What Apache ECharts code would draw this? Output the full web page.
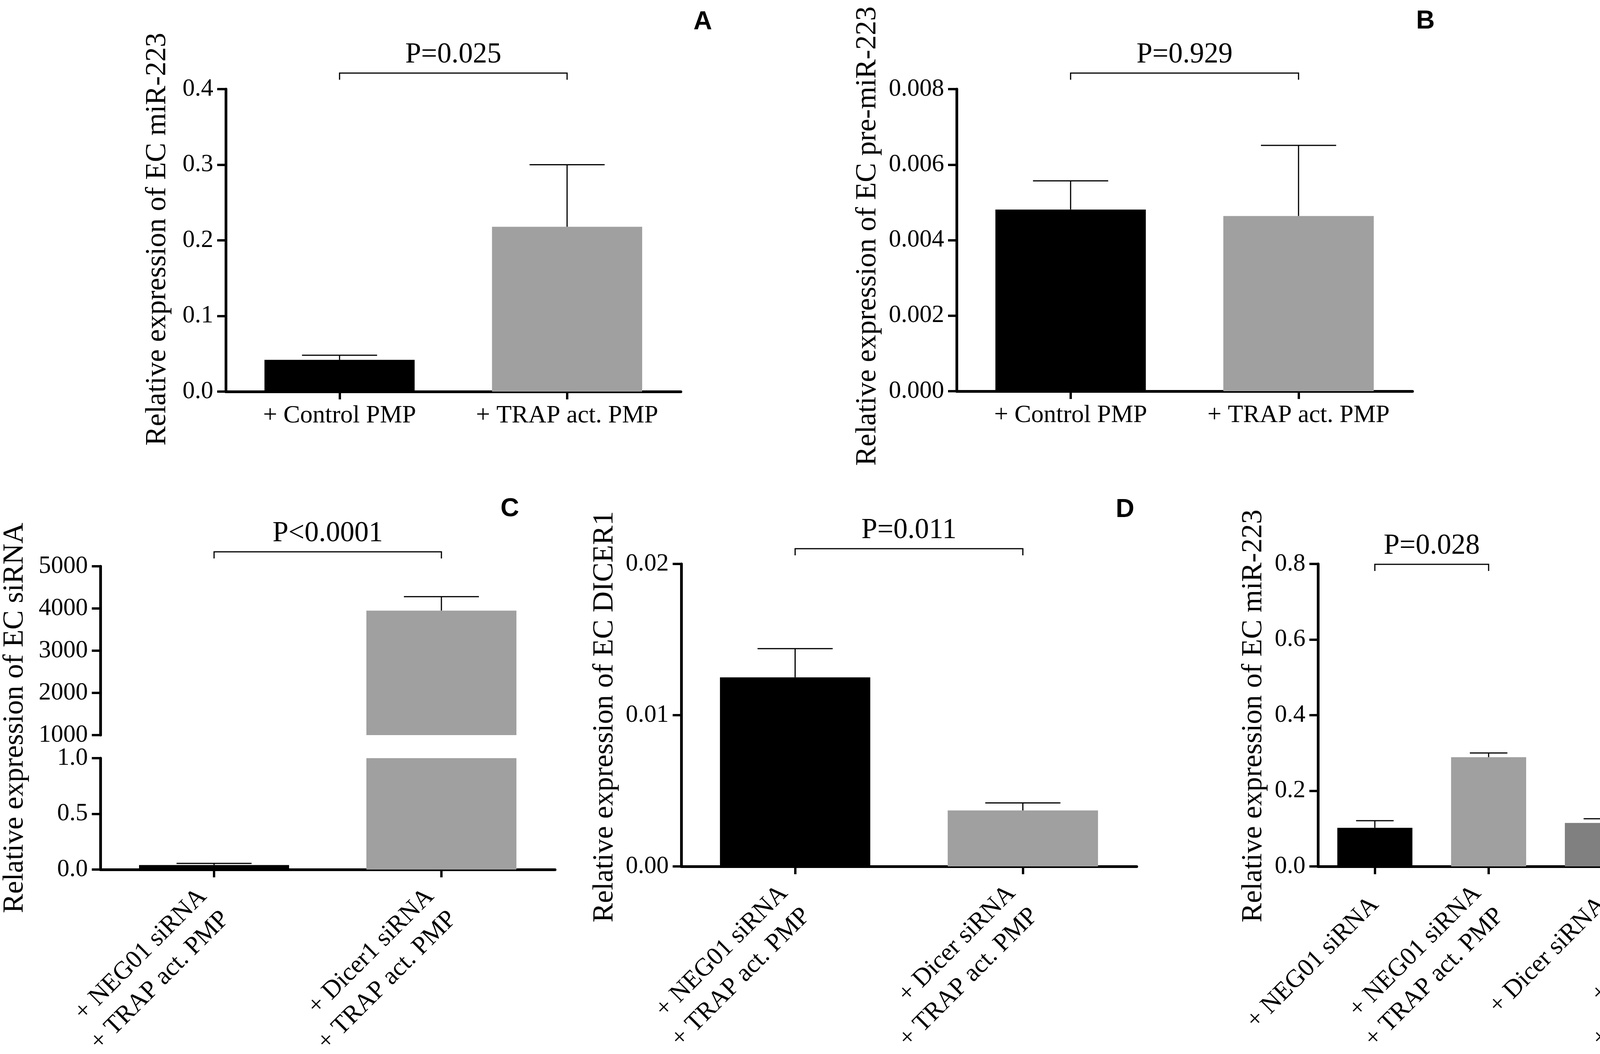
<!DOCTYPE html>
<html>
<head>
<meta charset="utf-8">
<script src="https://cdn.jsdelivr.net/npm/echarts@6/dist/echarts.min.js"></script>
<style>
html,body{margin:0;padding:0;background:#fff;}
#chart{width:4550px;height:2697px;}
</style>
</head>
<body>
<div id="chart"></div>
<script>
// ---------------- DATA ----------------
const catsA = ['+ Control PMP', '+ TRAP act. PMP'];
const meanA = [0.042, 0.218];
const semA  = [0.006, 0.082];
const pA = ['P=0.025'];
const pairsA = [[0, 1]];

const catsB = ['+ Control PMP', '+ TRAP act. PMP'];
const meanB = [0.00481, 0.00464];
const semB  = [0.00076, 0.00187];
const pB = ['P=0.929'];
const pairsB = [[0, 1]];

const catsC = ['+ NEG01 siRNA\n+ TRAP act. PMP', '+ Dicer1 siRNA\n+ TRAP act. PMP'];
const meanC = [0.04, 3950];
const semC  = [0.015, 330];
const pC = ['P<0.0001'];
const pairsC = [[0, 1]];

const catsD = ['+ NEG01 siRNA\n+ TRAP act. PMP', '+ Dicer siRNA\n+ TRAP act. PMP'];
const meanD = [0.0125, 0.0037];
const semD  = [0.0019, 0.0005];
const pD = ['P=0.011'];
const pairsD = [[0, 1]];

const catsE = ['+ NEG01 siRNA', '+ NEG01 siRNA\n+ TRAP act. PMP', '+ Dicer siRNA', '+ Dicer siRNA\n+ TRAP act. PMP'];
const meanE = [0.102, 0.289, 0.115, 0.432];
const semE  = [0.019, 0.011, 0.011, 0.106];
const pE = ['P=0.028', 'P=0.023'];
const pairsE = [[0, 1], [2, 3]];

const titles = {
  A: 'Relative expression of EC miR-223',
  B: 'Relative expression of EC pre-miR-223',
  C: 'Relative expression of EC siRNA',
  D: 'Relative expression of EC DICER1',
  E: 'Relative expression of EC miR-223'
};

// ---------------- STYLE / LAYOUT ----------------
const SERIF = 'Liberation Serif, Times New Roman, serif';
const SANS = 'Liberation Sans, Arial, sans-serif';
const BLACK = '#000000', GRAY = '#a0a0a0', DGRAY = '#808080', LGRAY = '#d4d4d4';

const grids = [
  {left: 578,  top: 228,  width: 1165, height: 774},  // A
  {left: 2449, top: 228,  width: 1167, height: 773},  // B
  {left: 257,  top: 1449, width: 1164, height: 432},  // C upper
  {left: 257,  top: 1940, width: 1164, height: 285},  // C lower
  {left: 1744, top: 1443, width: 1166, height: 774},  // D
  {left: 3374, top: 1443, width: 1165, height: 774}   // E
].map(g => Object.assign({outerBoundsMode: 'none', containLabel: false}, g));

const axisLineStyle = {show: true, onZero: false, lineStyle: {color: '#000', width: 7}};
const tickStyle = {show: true, length: 22, lineStyle: {color: '#000', width: 6}};

function xAxisFor(gi, cats, opts) {
  opts = opts || {};
  return {
    type: 'category', gridIndex: gi, data: cats, boundaryGap: true,
    show: opts.hidden ? false : true,
    axisLine: axisLineStyle,
    axisTick: Object.assign({alignWithLabel: true}, tickStyle, {length: 20}),
    axisLabel: opts.rotated ? {
      interval: 0, rotate: 45, fontFamily: SERIF, fontSize: 65, lineHeight: 82,
      color: '#000', margin: 88
    } : {
      interval: 0, fontFamily: SERIF, fontSize: 64, color: '#000', margin: 30
    },
    splitLine: {show: false}
  };
}
function yAxisFor(gi, min, max, interval, dec) {
  return {
    type: 'value', gridIndex: gi, min: min, max: max, interval: interval,
    axisLine: axisLineStyle, axisTick: tickStyle,
    axisLabel: {fontFamily: SERIF, fontSize: 63, color: '#000', margin: 32,
      formatter: v => dec >= 0 ? Number(v).toFixed(dec) : String(Math.round(v))},
    splitLine: {show: false}
  };
}

function barSeries(gi, means, colors) {
  return {
    type: 'bar', xAxisIndex: gi, yAxisIndex: gi, barWidth: '66%', clip: true,
    silent: true, animation: false,
    data: means.map((v, k) => ({value: v, itemStyle: {color: colors[k]}}))
  };
}
function errSeries(gi, means, sems, yMin, yMax) {
  return {
    type: 'custom', xAxisIndex: gi, yAxisIndex: gi, silent: true, animation: false, z: 5,
    encode: {x: 0, y: [1, 2]},
    data: means.map((m, k) => [k, m, m + sems[k]]),
    renderItem: function (params, api) {
      const x = api.value(0), m = api.value(1), t = api.value(2);
      if (m < yMin || t > yMax) return null;
      const p0 = api.coord([x, m]);
      const p1 = api.coord([x, t]);
      const cw = api.size([1, 0])[0] * 0.33;
      return {
        type: 'group', children: [
          {type: 'line', shape: {x1: p0[0], y1: p0[1], x2: p1[0], y2: p1[1]}, style: {stroke: '#000', lineWidth: 3}},
          {type: 'line', shape: {x1: p1[0] - cw / 2, y1: p1[1], x2: p1[0] + cw / 2, y2: p1[1]}, style: {stroke: '#000', lineWidth: 3}}
        ]
      };
    }
  };
}
function pSeries(gi, pairs, labels, yMin, yMax, offs) {
  return {
    type: 'custom', xAxisIndex: gi, yAxisIndex: gi, silent: true, animation: false, clip: false,
    encode: {x: 0, y: 2},
    data: pairs.map(p => [p[0], p[1], yMin]),
    renderItem: function (params, api) {
      const i = params.dataIndex;
      const a = api.coord([api.value(0), yMax]);
      const b = api.coord([api.value(1), yMax]);
      const yb = a[1] - offs[i];
      const leg = 17;
      return {
        type: 'group', children: [
          {type: 'polyline', shape: {points: [[a[0], yb + leg], [a[0], yb], [b[0], yb], [b[0], yb + leg]]},
           style: {stroke: '#000', lineWidth: 3, fill: null}},
          {type: 'text', x: (a[0] + b[0]) / 2, y: yb - 10,
           style: {text: labels[i], fill: '#000', fontFamily: SERIF, fontSize: 73,
                   align: 'center', verticalAlign: 'bottom'}}
        ]
      };
    }
  };
}

const option = {
  backgroundColor: '#fff',
  animation: false,
  grid: grids,
  xAxis: [
    xAxisFor(0, catsA),
    xAxisFor(1, catsB),
    xAxisFor(2, catsC, {hidden: true}),
    xAxisFor(3, catsC, {rotated: true}),
    xAxisFor(4, catsD, {rotated: true}),
    xAxisFor(5, catsE, {rotated: true})
  ],
  yAxis: [
    yAxisFor(0, 0, 0.4, 0.1, 1),
    yAxisFor(1, 0, 0.008, 0.002, 3),
    yAxisFor(2, 1000, 5000, 1000, -1),
    yAxisFor(3, 0, 1, 0.5, 1),
    yAxisFor(4, 0, 0.02, 0.01, 2),
    yAxisFor(5, 0, 0.8, 0.2, 1)
  ],
  series: [
    barSeries(0, meanA, [BLACK, GRAY]),
    errSeries(0, meanA, semA, 0, 0.4),
    pSeries(0, pairsA, pA, 0, 0.4, [41]),

    barSeries(1, meanB, [BLACK, GRAY]),
    errSeries(1, meanB, semB, 0, 0.008),
    pSeries(1, pairsB, pB, 0, 0.008, [41]),

    barSeries(2, meanC, [BLACK, GRAY]),
    errSeries(2, meanC, semC, 1000, 5000),
    pSeries(2, pairsC, pC, 1000, 5000, [37]),
    barSeries(3, meanC, [BLACK, GRAY]),
    errSeries(3, meanC, semC, 0, 1),

    barSeries(4, meanD, [BLACK, GRAY]),
    errSeries(4, meanD, semD, 0, 0.02),
    pSeries(4, pairsD, pD, 0, 0.02, [39]),

    barSeries(5, meanE, [BLACK, GRAY, DGRAY, LGRAY]),
    errSeries(5, meanE, semE, 0, 0.8),
    pSeries(5, pairsE, pE, 0, 0.8, [-1, -8])
  ],
  graphic: [
    {type: 'text', x: 1799, y: 57, style: {text: 'A', fontFamily: SANS, fontWeight: 'bold', fontSize: 66, fill: '#000', align: 'center', verticalAlign: 'middle'}},
    {type: 'text', x: 3649, y: 55, style: {text: 'B', fontFamily: SANS, fontWeight: 'bold', fontSize: 66, fill: '#000', align: 'center', verticalAlign: 'middle'}},
    {type: 'text', x: 1305, y: 1303, style: {text: 'C', fontFamily: SANS, fontWeight: 'bold', fontSize: 66, fill: '#000', align: 'center', verticalAlign: 'middle'}},
    {type: 'text', x: 2880, y: 1305, style: {text: 'D', fontFamily: SANS, fontWeight: 'bold', fontSize: 66, fill: '#000', align: 'center', verticalAlign: 'middle'}},
    {type: 'text', x: 4497, y: 1305, style: {text: 'E', fontFamily: SANS, fontWeight: 'bold', fontSize: 66, fill: '#000', align: 'center', verticalAlign: 'middle'}},

    {type: 'text', x: 404, y: 612, rotation: Math.PI / 2, style: {text: titles.A, fontFamily: SERIF, fontSize: 74, fill: '#000', align: 'center', verticalAlign: 'middle'}},
    {type: 'text', x: 2222, y: 604, rotation: Math.PI / 2, style: {text: titles.B, fontFamily: SERIF, fontSize: 74, fill: '#000', align: 'center', verticalAlign: 'middle'}},
    {type: 'text', x: 39, y: 1837, rotation: Math.PI / 2, style: {text: titles.C, fontFamily: SERIF, fontSize: 74, fill: '#000', align: 'center', verticalAlign: 'middle'}},
    {type: 'text', x: 1549, y: 1834, rotation: Math.PI / 2, style: {text: titles.D, fontFamily: SERIF, fontSize: 74, fill: '#000', align: 'center', verticalAlign: 'middle'}},
    {type: 'text', x: 3210, y: 1832, rotation: Math.PI / 2, style: {text: titles.E, fontFamily: SERIF, fontSize: 74, fill: '#000', align: 'center', verticalAlign: 'middle'}}
  ]
};

const chart = echarts.init(document.getElementById('chart'), null, {renderer: 'canvas', width: 4550, height: 2697});
chart.setOption(option);
</script>
</body>
</html>
